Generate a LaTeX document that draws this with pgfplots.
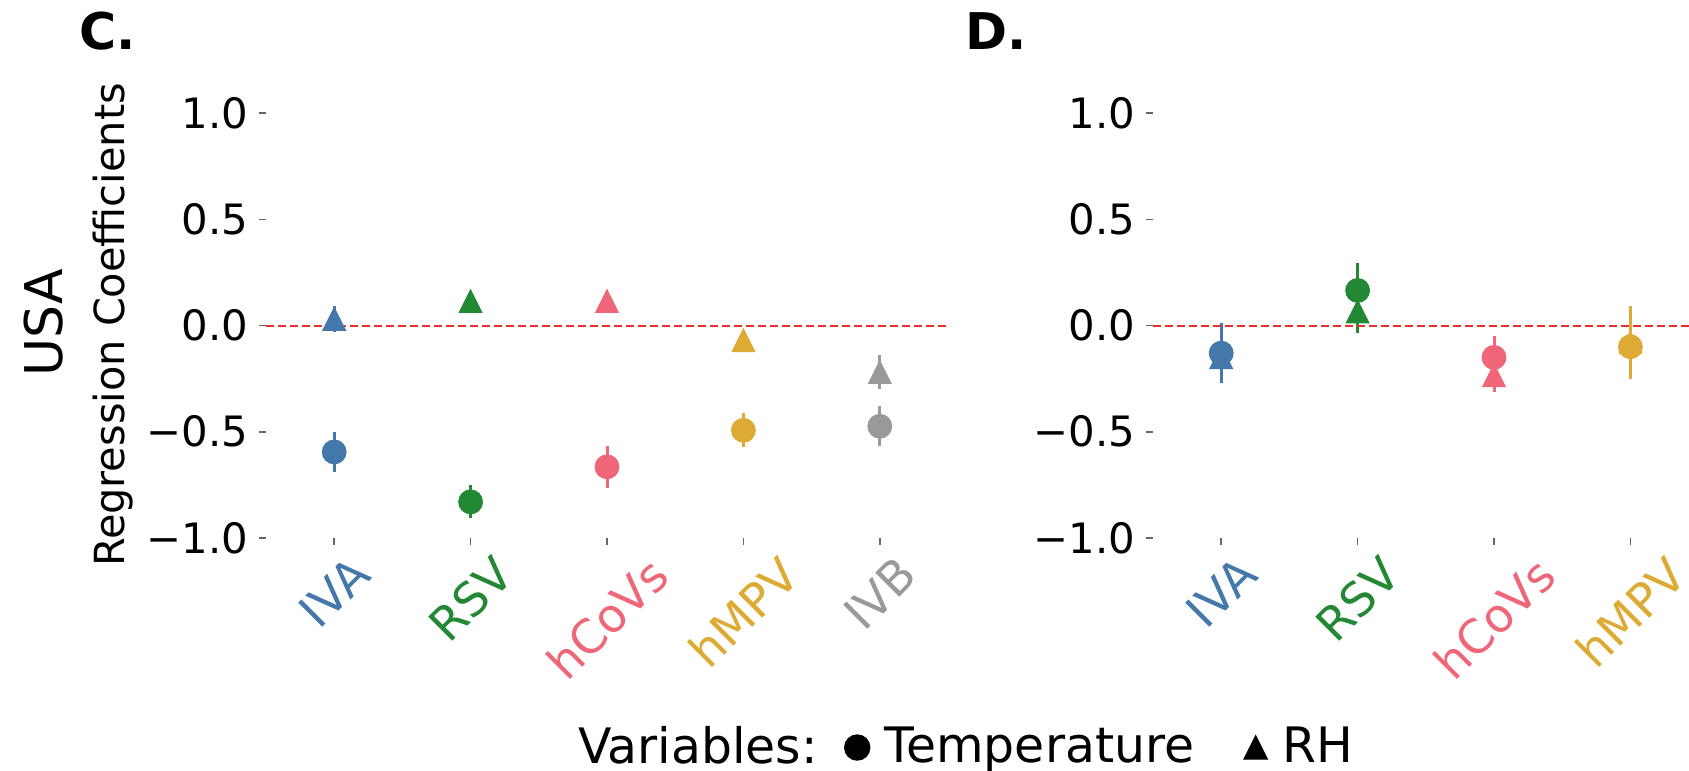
\documentclass[border=0pt]{standalone}
\usepackage{fontspec}
\setmainfont{DejaVu Sans}
\usepackage{graphicx}
\usepackage{pgfplots}
\pgfplotsset{compat=1.18}

\definecolor{cIVA}{HTML}{4477AA}
\definecolor{cRSV}{HTML}{228833}
\definecolor{cCoV}{HTML}{EE6677}
\definecolor{cMPV}{HTML}{DDAA33}
\definecolor{cIVB}{HTML}{999999}
\definecolor{zeroline}{HTML}{E8302E}

% matplotlib style '^' marker
\pgfdeclareplotmark{mtri}{%
  \pgfpathmoveto{\pgfqpoint{0pt}{\pgfplotmarksize}}%
  \pgfpathlineto{\pgfqpoint{-\pgfplotmarksize}{-\pgfplotmarksize}}%
  \pgfpathlineto{\pgfqpoint{\pgfplotmarksize}{-\pgfplotmarksize}}%
  \pgfpathclose\pgfusepathqfillstroke}

\pgfplotsset{
  panel/.style={
    scale only axis, width=68.2mm, height=42.5mm,
    xmin=-0.5, xmax=4.5, ymin=-1, ymax=1,
    axis lines*=left, axis line style={draw=none},
    tick align=outside, major tick length=0.7mm,
    tick style={black!60, line width=0.15mm},
    xtick={0,1,2,3,4}, ytick={-1,-0.5,0,0.5,1},
    yticklabels={−1.0,−0.5,0.0,0.5,1.0},
    xticklabels={\rotatebox{45}{\color{cIVA}IVA},\rotatebox{45}{\color{cRSV}RSV},
      \rotatebox{45}{\color{cCoV}hCoVs},\rotatebox{45}{\color{cMPV}hMPV},\rotatebox{45}{\color{cIVB}IVB}},
    yticklabel style={font=\fontsize{11.9}{14}\selectfont, anchor=east, inner sep=0pt, xshift=-1.0mm},
    xticklabel style={font=\fontsize{13.3}{16}\selectfont, anchor=north, inner sep=0pt, yshift=-0.8mm},
    clip=false,
  },
  temp/.style={forget plot, only marks, mark=*, mark size=1.17mm,
    error bars/.cd, y dir=both, y explicit, error mark=none,
    error bar style={line width=0.3mm}},
  rh/.style={forget plot, only marks, mark=mtri, mark size=1.1mm,
    error bars/.cd, y dir=both, y explicit, error mark=none,
    error bar style={line width=0.3mm}},
  dotlegend/.style={legend image code/.code={\draw[##1] plot coordinates {(0mm,0mm)};}},
  zero/.style={forget plot, zeroline, line width=0.2mm, dash pattern=on 0.8mm off 0.4mm},
}

\begin{document}
\begin{tikzpicture}
\useasboundingbox (0,0) rectangle (168.9mm,77mm);
\clip (0,0) rectangle (168.9mm,77mm);

% ---- panel C
\begin{axis}[panel, at={(26.6mm,23.2mm)}, anchor=south west,
  legend style={draw=none, fill=none, inner sep=0pt, outer sep=0pt,
    at={(0.4575,-0.493)}, anchor=west, legend columns=3,
    font=\fontsize{13.9}{16}\selectfont, legend cell align=left,
    nodes={inner sep=0pt},
    /tikz/column 1/.style={column sep=0pt},
    /tikz/column 2/.style={column sep=2.7mm},
    /tikz/column 3/.style={column sep=1.5mm},
    /tikz/column 4/.style={column sep=5.0mm},
    /tikz/column 5/.style={column sep=1.5mm}}]
\addlegendimage{empty legend}\addlegendentry{Variables:}
\addlegendimage{black, only marks, mark=*, mark size=1.25mm, dotlegend}\addlegendentry{Temperature}
\addlegendimage{black, only marks, mark=mtri, mark size=1.15mm, dotlegend}\addlegendentry{RH}

% Temperature
\addplot[cIVA, temp] coordinates {(0,-0.595) +- (0,0.095)};
\addplot[cRSV, temp] coordinates {(1,-0.830) +- (0,0.078)};
\addplot[cCoV, temp] coordinates {(2,-0.665) +- (0,0.100)};
\addplot[cMPV, temp] coordinates {(3,-0.493) +- (0,0.080)};
\addplot[cIVB, temp] coordinates {(4,-0.474) +- (0,0.095)};
% RH
\addplot[cIVA, rh] coordinates {(0,0.030) +- (0,0.060)};
\addplot[cRSV, rh] coordinates {(1,0.114) +- (0,0.030)};
\addplot[cCoV, rh] coordinates {(2,0.114) +- (0,0.030)};
\addplot[cMPV, rh] coordinates {(3,-0.070) +- (0,0.030)};
\addplot[cIVB, rh] coordinates {(4,-0.220) +- (0,0.080)};

\addplot[zero] coordinates {(-0.5,0) (4.5,0)};
\end{axis}

% ---- panel D
\begin{axis}[panel, at={(115.3mm,23.2mm)}, anchor=south west]
% Temperature
\addplot[cIVA, temp] coordinates {(0,-0.130) +- (0,0.140)};
\addplot[cRSV, temp] coordinates {(1,0.165) +- (0,0.130)};
\addplot[cCoV, temp] coordinates {(2,-0.150) +- (0,0.100)};
\addplot[cMPV, temp] coordinates {(3,-0.100) +- (0,0.120)};
% RH
\addplot[cIVA, rh] coordinates {(0,-0.150) +- (0,0.120)};
\addplot[cRSV, rh] coordinates {(1,0.065) +- (0,0.100)};
\addplot[cCoV, rh] coordinates {(2,-0.235) +- (0,0.080)};
\addplot[cMPV, rh] coordinates {(3,-0.080) +- (0,0.170)};

\addplot[zero] coordinates {(-0.5,0) (4.5,0)};
\end{axis}

% panel letters and row labels
\node[anchor=base west, inner sep=0pt, font=\fontsize{14.4}{17}\selectfont\bfseries] at (7.9mm,72mm) {C.};
\node[anchor=base west, inner sep=0pt, font=\fontsize{14.4}{17}\selectfont\bfseries] at (96.5mm,72mm) {D.};
\node[rotate=90, inner sep=0pt, font=\fontsize{14.8}{18}\selectfont] at (4.4mm,44.7mm) {USA};
\node[rotate=90, inner sep=0pt, font=\fontsize{11.8}{14}\selectfont] at (11.3mm,44.5mm) {Regression Coefficients};
\end{tikzpicture}
\end{document}
